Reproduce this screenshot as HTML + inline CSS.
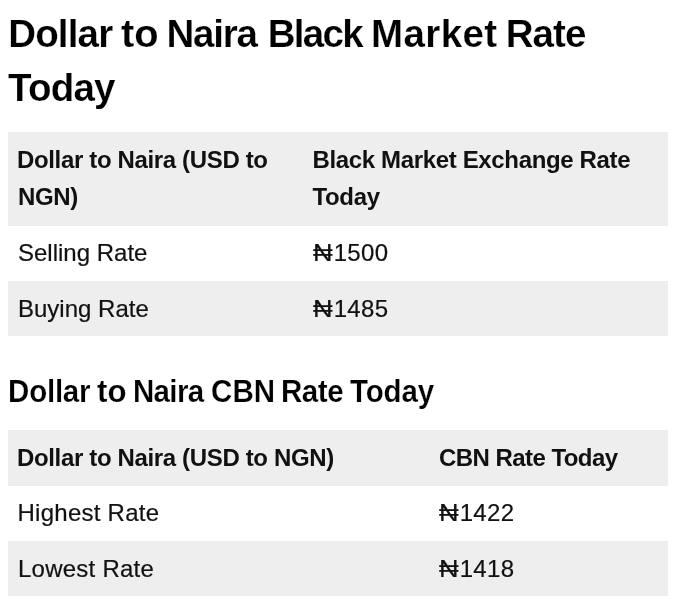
<!DOCTYPE html>
<html><head><meta charset="utf-8">
<style>
html,body{margin:0;padding:0;background:#fff;}
body{width:677px;height:605px;overflow:hidden;font-family:"Liberation Sans",sans-serif;color:#111;}
h1,h2{margin:0;font-weight:bold;color:#000;}
h1{font-size:38.5px;}
h1 span{-webkit-text-stroke:0.2px #fff;transform:scaleY(1.022);transform-origin:0 0}
h2{font-size:29.5px;}
h2 span{-webkit-text-stroke:0.2px #fff;transform:scaleY(1.045);transform-origin:0 0}
h1 span,h2 span{position:absolute;line-height:1;white-space:nowrap;}
table{position:absolute;left:8px;width:660px;border-collapse:collapse;font-size:24px;}
td,th{padding:0 10px;text-align:left;vertical-align:middle;}
#t1{top:132px;}
#t2{top:430px;}
tr.g{background:#eee;}
th{font-weight:bold;line-height:38px;letter-spacing:-0.35px;}
th span,td span{position:relative;}
td{height:55px;-webkit-text-stroke:0.2px #111;}
td.n{letter-spacing:0.33px;}
td.n i{font-style:normal;display:inline-block;transform:scaleX(1.13);transform-origin:0 50%;margin-right:3.3px;letter-spacing:0;}
</style></head><body>
<h1><span style="left:8.21px;top:13.80px;letter-spacing:-0.84px">Dollar</span> <span style="left:121.27px;top:13.80px;letter-spacing:0.00px;transform:scale(1.0347,1.022)">to</span> <span style="left:166.51px;top:13.80px;letter-spacing:-1.22px">Naira</span> <span style="left:267.81px;top:13.80px;letter-spacing:-1.74px">Black</span> <span style="left:371.11px;top:13.80px;letter-spacing:0.37px">Market</span> <span style="left:505.81px;top:13.80px;letter-spacing:-0.98px">Rate</span> <span style="left:8.02px;top:68.00px;letter-spacing:-0.76px">Today</span></h1>
<table id="t1">
<tr class="g" style="height:94px"><th style="width:275px"><span style="left:-1px;top:0px">Dollar to Naira (USD to<br><span style="left:1px;top:-1px">NGN)</span></span></th><th><span style="left:-0.5px;top:0px">Black Market Exchange Rate<br><span style="top:-1px">Today</span></span></th></tr>
<tr><td><span style="top:-1px">Selling Rate</span></td><td class="n"><span style="top:-1px"><i>₦</i>1500</span></td></tr>
<tr class="g"><td><span style="top:0px">Buying Rate</span></td><td class="n"><span style="top:0px"><i>₦</i>1485</span></td></tr>
</table>
<h2><span style="left:8.10px;top:376.00px;letter-spacing:-0.24px">Dollar</span> <span style="left:97.34px;top:376.00px;letter-spacing:0.00px;transform:scale(1.0585,1.045)">to</span> <span style="left:132.90px;top:376.00px;letter-spacing:-0.62px">Naira</span> <span style="left:211.08px;top:376.00px;letter-spacing:0.02px">CBN</span> <span style="left:280.90px;top:376.00px;letter-spacing:-0.43px">Rate</span> <span style="left:350.09px;top:376.00px;letter-spacing:-0.17px">Today</span></h2>
<table id="t2">
<tr class="g" style="height:56px"><th style="width:401px"><span style="left:-1px;top:0px">Dollar to Naira (USD to NGN)</span></th><th><span style="left:0px;top:0px;letter-spacing:-0.55px">CBN Rate Today</span></th></tr>
<tr><td><span style="left:-0.5px;top:-1px;letter-spacing:0.26px">Highest Rate</span></td><td class="n"><span style="top:-1px"><i>₦</i>1422</span></td></tr>
<tr class="g"><td><span style="left:0px;top:0px;letter-spacing:0.24px">Lowest Rate</span></td><td class="n"><span><i>₦</i>1418</span></td></tr>
</table>
</body></html>
